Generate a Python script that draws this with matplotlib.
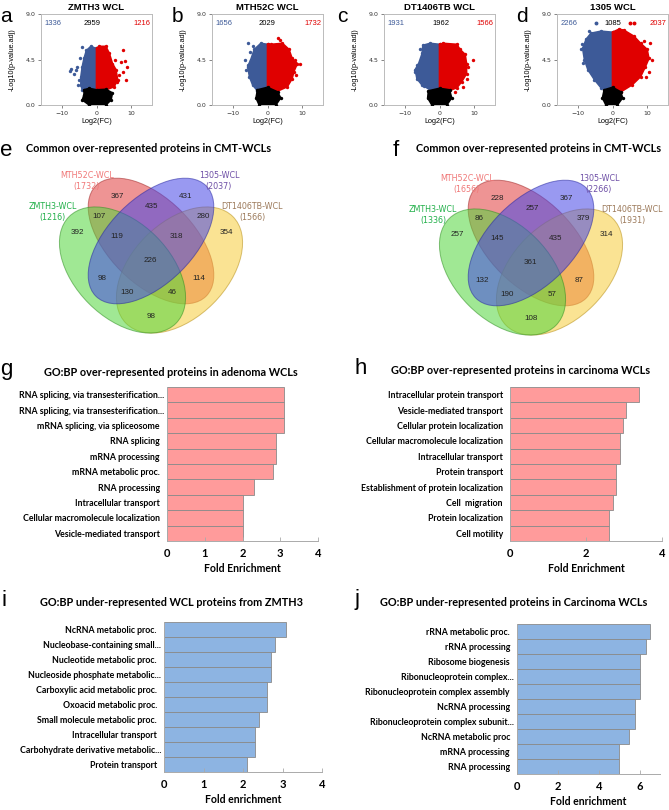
import matplotlib.pyplot as plt
from matplotlib.patches import Ellipse

W, H = 669, 810

# ---------------- volcano plots (a-d) ----------------
volcano_titles = ["ZMTH3 WCL", "MTH52C WCL", "DT1406TB WCL", "1305 WCL"]
n_down = [1336, 1656, 1931, 2266]
n_ns = [2959, 2029, 1962, 1085]
n_up = [1216, 1732, 1566, 2037]

# outlines of the dense clouds and stray points (log2FC, -log10 padj)
a_blue = [(0, 5.6), (-0.2, 5.6), (-1.6, 5.8), (-2.9, 5.4), (-3.6, 4.6), (-4.1, 3.8),
          (-4.5, 2.8), (-4.5, 2.0), (-4.1, 1.5), (0, 1.5)]
a_red = [(0, 1.5), (0, 5.6), (0.8, 5.8), (2.7, 5.8), (3.7, 5.1), (4.6, 4.1), (5.6, 3.5),
         (6.1, 2.5), (5.1, 1.8), (2.7, 1.5)]
a_black = [(-3.6, 1.5), (-2.1, 1.65), (0, 1.5), (2.7, 1.55), (4.6, 1.2), (4.2, 0.5),
           (2.7, 0), (-2.1, 0), (-4.1, 0.5), (-3.6, 1.0)]
a_blue_pts = [(-4.1, 5.7), (-7.4, 3.6), (-7.7, 3.4), (-6.5, 3.1), (-5.5, 3.8), (-5.0, 2.5),
              (-6.0, 3.5), (-5.2, 2.0), (-4.8, 4.6)]
a_red_pts = [(7.5, 5.4), (7.1, 4.3), (8.3, 4.4), (8.7, 3.8), (7.7, 3.3), (8.5, 2.5),
             (6.6, 3.0), (6.0, 2.3), (5.3, 4.5), (4.8, 2.2)]

b_blue = [(0, 6.0), (-1.9, 6.1), (-3.8, 5.5), (-4.8, 4.5), (-5.7, 3.8), (-5.2, 2.8),
          (-4.3, 2.0), (-2.9, 1.4), (0, 1.4)]
b_red = [(0, 1.4), (0, 6.0), (1.0, 6.0), (4.3, 6.1), (6.2, 5.5), (7.1, 4.6), (8.6, 4.1),
         (7.6, 3.3), (7.1, 2.6), (5.7, 1.8), (2.4, 1.3)]
b_black = [(-2.9, 1.5), (0, 1.75), (2.9, 1.3), (3.8, 0.7), (2.4, 0), (-2.4, 0), (-3.3, 0.7)]
b_blue_pts = [(-5.7, 6.1), (-6.4, 4.5), (-5.7, 4.0), (-4.3, 5.8), (-6.2, 3.5), (-5.0, 5.2)]
b_red_pts = [(9.5, 4.1), (2.9, 6.6), (8.1, 3.0), (8.0, 4.5), (3.5, 6.4)]

c_blue = [(0, 6.0), (-2.7, 6.1), (-4.8, 5.9), (-5.0, 5.1), (-6.0, 4.1), (-7.0, 3.5),
          (-6.5, 2.6), (-5.1, 2.0), (-2.7, 1.5), (0, 1.5)]
c_red = [(0, 1.5), (0, 6.0), (1.1, 6.1), (5.0, 6.0), (5.9, 5.5), (7.4, 5.0), (7.8, 4.1),
         (7.8, 3.1), (6.4, 2.3), (5.0, 1.7), (2.6, 1.4)]
c_black = [(-3.2, 1.4), (0, 1.65), (2.9, 1.5), (3.5, 0.7), (2.1, 0), (-2.2, 0), (-3.4, 0.7)]
c_blue_pts = [(-6.5, 4.0), (-5.5, 5.5), (-7.2, 3.3), (-4.5, 1.9)]
c_red_pts = [(9.6, 4.5), (8.3, 3.8), (4.5, 1.3), (8.0, 2.6), (6.8, 1.8)]

d_blue = [(0, 7.2), (-3.3, 7.3), (-6.2, 7.1), (-7.6, 6.5), (-8.6, 5.6), (-8.1, 4.5),
          (-7.1, 3.5), (-5.2, 2.5), (-3.3, 1.7), (-0.5, 1.3), (0, 1.3)]
d_red = [(0, 1.3), (0, 7.2), (1.9, 7.5), (3.3, 7.4), (6.2, 6.8), (8.1, 6.1), (10.0, 5.5),
         (10.5, 4.6), (9.5, 3.8), (8.1, 2.8), (5.7, 2.0), (2.4, 1.3)]
d_black = [(-2.4, 1.5), (0, 1.75), (2.4, 1.3), (2.9, 0.7), (1.4, 0), (-1.9, 0), (-2.9, 0.7)]
d_blue_pts = [(-9.0, 5.5), (-8.8, 6.0), (-8.5, 4.2), (-6.8, 7.3)]
d_red_pts = [(10.9, 6.1), (10.5, 3.3), (11.4, 4.5), (9.0, 6.3), (9.8, 2.8)]

# ---------------- Venn diagrams (e, f) ----------------
venn_sets = ["ZMTH3-WCL", "MTH52C-WCL", "1305-WCL", "DT1406TB-WCL"]
e_sizes = [1216, 1732, 2037, 1566]
f_sizes = [1336, 1656, 2266, 1931]
# regions: R, B, RB, GR, BY, G, Y, GRB, RBY, GRBY, GB, RY, GBY, GRY, GY
e_counts = [367, 431, 435, 107, 280, 392, 354, 119, 318, 226, 98, 114, 130, 46, 98]
f_counts = [228, 367, 257, 86, 379, 257, 314, 145, 435, 361, 132, 87, 190, 57, 108]

# ---------------- GO:BP bar charts (g-j) ----------------
g_terms = ["RNA splicing, via transesterification...", "RNA splicing, via transesterification...",
           "mRNA splicing, via spliceosome", "RNA splicing", "mRNA processing",
           "mRNA metabolic proc.", "RNA processing", "Intracellular transport",
           "Cellular macromolecule localization", "Vesicle-mediated transport"]
g_vals = [3.1, 3.1, 3.1, 2.9, 2.9, 2.8, 2.3, 2.0, 2.0, 2.0]

h_terms = ["Intracellular protein transport", "Vesicle-mediated transport",
           "Cellular protein localization", "Cellular macromolecule localization",
           "Intracellular transport", "Protein transport", "Establishment of protein localization",
           "Cell  migration", "Protein localization", "Cell motility"]
h_vals = [3.4, 3.05, 2.98, 2.9, 2.9, 2.8, 2.8, 2.7, 2.6, 2.6]

i_terms = ["NcRNA metabolic proc.", "Nucleobase-containing small...", "Nucleotide metabolic proc.",
           "Nucleoside phosphate metabolic...", "Carboxylic acid metabolic proc.",
           "Oxoacid metabolic proc.", "Small molecule metabolic proc.", "Intracellular transport",
           "Carbohydrate derivative metabolic...", "Protein transport"]
i_vals = [3.1, 2.8, 2.7, 2.7, 2.6, 2.6, 2.4, 2.3, 2.3, 2.1]

j_terms = ["rRNA metabolic proc.", "rRNA processing", "Ribosome biogenesis",
           "Ribonucleoprotein complex...", "Ribonucleoprotein complex assembly",
           "NcRNA processing", "Ribonucleoprotein complex subunit...", "NcRNA metabolic proc",
           "mRNA processing", "RNA processing"]
j_vals = [6.5, 6.3, 6.0, 6.0, 6.0, 5.8, 5.8, 5.5, 5.0, 5.0]


def box(l, t, r, b):
    return [l / W, 1 - b / H, (r - l) / W, (b - t) / H]


fig = plt.figure(figsize=(W / 100, H / 100), dpi=100)
fig.patch.set_facecolor("white")

BLUE, RED = "#3d5a98", "#e00000"
AR = "Liberation Sans"
CAL = "Lato"


def ftext(x, y, s, **kw):
    fig.text(x / W, 1 - y / H, s, **kw)


# ---- volcano panels ----
volcano_boxes = [(41, 14, 152, 105), (212, 14, 323, 105), (384, 14, 495, 105), (557, 14, 668, 105)]
volcano_data = [(a_blue, a_red, a_black, a_blue_pts, a_red_pts),
                (b_blue, b_red, b_black, b_blue_pts, b_red_pts),
                (c_blue, c_red, c_black, c_blue_pts, c_red_pts),
                (d_blue, d_red, d_black, d_blue_pts, d_red_pts)]
letters_top = [("a", 6), ("b", 177), ("c", 342), ("d", 522)]
mid_x = [0.46, 0.5, 0.51, 0.5]

for k, (bx, data) in enumerate(zip(volcano_boxes, volcano_data)):
    ax = fig.add_axes(box(*bx))
    blue, red, black, bpts, rpts = data
    for poly, col in [(blue, BLUE), (red, RED)]:
        xs, ys = zip(*poly)
        ax.fill(xs, ys, color=col, lw=1.2, ec=col, zorder=2)
        ax.scatter(xs, ys, s=6, color=col, lw=0, zorder=2)
    xs, ys = zip(*bpts)
    ax.scatter(xs, ys, s=6, color=BLUE, lw=0, zorder=3)
    xs, ys = zip(*rpts)
    ax.scatter(xs, ys, s=6, color=RED, lw=0, zorder=3)
    xs, ys = zip(*black)
    ax.fill(xs, ys, color="black", lw=1.2, ec="black", zorder=4)
    ax.scatter(xs, ys, s=6, color="black", lw=0, zorder=4)

    ax.set_xlim(-16, 16)
    ax.set_ylim(0, 9)
    ax.set_xticks([-10, 0, 10])
    ax.set_yticks([0, 4.5, 9])
    ax.set_yticklabels(["0.0", "4.5", "9.0"])
    ax.tick_params(labelsize=4.5, length=2, width=0.5, pad=2, colors="#555555",
                   labelcolor="#333333")
    for sp in ax.spines.values():
        sp.set_color("#bbbbbb")
        sp.set_linewidth(0.7)
    ax.set_xlabel("Log2(FC)", fontsize=5.2, family=AR, labelpad=2)
    ax.set_ylabel("-Log10(p-value.adj)", fontsize=5.2, family=AR, labelpad=7)
    ax.set_title(volcano_titles[k], fontsize=6.8, fontweight="bold", family=AR, pad=3)

    ax.text(0.03, 0.9, str(n_down[k]), color=BLUE, fontsize=5.5, family=AR,
            transform=ax.transAxes, ha="left", va="center")
    ax.text(mid_x[k], 0.9, str(n_ns[k]), color="black", fontsize=5.5, family=AR,
            transform=ax.transAxes, ha="center", va="center")
    ax.text(0.985, 0.9, str(n_up[k]), color=RED, fontsize=5.5, family=AR,
            transform=ax.transAxes, ha="right", va="center")
    if k == 3:
        ax.plot([0.35], [0.9], "o", ms=1.8, color=BLUE, transform=ax.transAxes)
        ax.plot([0.66, 0.69], [0.9, 0.9], "o", ms=1.8, color=RED, transform=ax.transAxes)

    lt, lx = letters_top[k]
    ftext(lx, 16, lt, fontsize=15, family=AR, ha="center", va="center")

# ---- Venn diagrams ----
vax = fig.add_axes([0, 0, 1, 1], zorder=-1)
vax.set_xlim(0, W)
vax.set_ylim(H, 0)
vax.axis("off")

# drawing order: red, yellow, green, blue (blue ends up on top, as in the picture)
ell_order = [1, 3, 0, 2]
ell_colors = ["#52d63c", "#e03c3c", "#4646e6", "#f7cc3a"]
ell_edges = ["#2f8f22", "#a02828", "#2828a0", "#b89018"]
# ellipse layout relative to panel e (pixels)
ell_geom = [((122.5, 270), 151, 95, 45), ((151, 241), 156, 85, 45),
            ((151, 241), 156, 85, -45), ((179.5, 270), 151, 95, -45)]
region_pos = [(117, 197), (186, 197), (152, 207), (99, 217), (203, 217), (77, 233), (226, 233),
              (117, 237), (176, 237), (150, 261), (102, 279), (199, 279), (127, 293), (172, 293),
              (151, 317)]
set_label_pos = [(53, 212), (87, 181), (219, 181), (252, 212)]
set_label_col = ["#22b04a", "#f07878", "#6e4fa6", "#9c7a5b"]

for dx, dy, sizes, counts, letter, lx in [(0, 0, e_sizes, e_counts, "e", 6),
                                         (380, 2, f_sizes, f_counts, "f", 396)]:
    for idx in ell_order:
        c, w, hgt, ang = ell_geom[idx]
        vax.add_patch(Ellipse((c[0] + dx, c[1] + dy), w, hgt, angle=ang, fc=ell_colors[idx],
                              ec=ell_edges[idx], alpha=0.55, lw=0.7))
    for (px, py), n in zip(region_pos, counts):
        vax.text(px + dx, py + dy, str(n), fontsize=5.8, family=AR, ha="center", va="center",
                 color="#222222")
    for (px, py), name, n, col in zip(set_label_pos, venn_sets, sizes, set_label_col):
        vax.text(px + dx, py + dy + (1 if dx else 0), f"{name}\n({n})", fontsize=5.8,
                 family="DejaVu Sans", ha="center", va="center", color=col, linespacing=1.25)
    ftext(149 + dx + (10 if dx else 0), 148, "Common over-represented proteins in CMT-WCLs",
          fontsize=7.8, fontweight="bold", family=CAL, ha="center", va="center")
    ftext(lx, 150, letter, fontsize=16, family=AR, ha="center", va="center")

# ---- bar charts ----
bar_specs = [
    (g_terms, g_vals, (167, 387, 318, 541), 4, [0, 1, 2, 3, 4], "#ff9b9b",
     "GO:BP over-represented proteins in adenoma WCLs", (171, 372), "Fold Enrichment", "g", (6, 370)),
    (h_terms, h_vals, (510, 387, 662, 541), 4, [0, 2, 4], "#ff9b9b",
     "GO:BP over-represented proteins in carcinoma WCLs", (521, 370), "Fold Enrichment", "h", (361, 368)),
    (i_terms, i_vals, (164, 622, 322, 772), 4, [0, 1, 2, 3, 4], "#8db4e2",
     "GO:BP under-represented WCL proteins from ZMTH3", (171, 602), "Fold enrichment", "i", (4, 600)),
    (j_terms, j_vals, (517, 624, 660, 774), 7, [0, 2, 4, 6], "#8db4e2",
     "GO:BP under-represented proteins in Carcinoma WCLs", (514, 602), "Fold enrichment", "j", (357, 600)),
]

for terms, vals, bx, xmax, ticks, col, title, tpos, xlab, letter, lpos in bar_specs:
    ax = fig.add_axes(box(*bx))
    ax.barh(range(len(vals)), vals, height=1.0, color=col, edgecolor="#8a8a8a", lw=0.6)
    ax.set_ylim(len(vals) - 0.5, -0.5)
    ax.set_xlim(0, xmax)
    ax.set_yticks(range(len(terms)))
    ax.set_yticklabels([t if t.endswith("...") else t + "  " for t in terms],
                       fontsize=6.3, fontweight="bold", family=CAL)
    ax.set_xticks(ticks)
    ax.set_xticklabels([str(t) for t in ticks], fontsize=8, fontweight="bold", family=CAL)
    ax.tick_params(axis="y", length=0, pad=2)
    ax.tick_params(axis="x", direction="in", length=3, width=0.6, color="#aaaaaa", pad=5)
    for s in ["top", "right"]:
        ax.spines[s].set_visible(False)
    for s in ["left", "bottom"]:
        ax.spines[s].set_color("#aaaaaa")
        ax.spines[s].set_linewidth(0.7)
    ax.set_xlabel(xlab, fontsize=7.6, fontweight="bold", family=CAL, labelpad=3)
    ftext(tpos[0], tpos[1], title, fontsize=7.8, fontweight="bold", family=CAL,
          ha="center", va="center")
    ftext(lpos[0], lpos[1], letter, fontsize=16, family=AR, ha="center", va="center")

fig.savefig("out.png", dpi=100)
